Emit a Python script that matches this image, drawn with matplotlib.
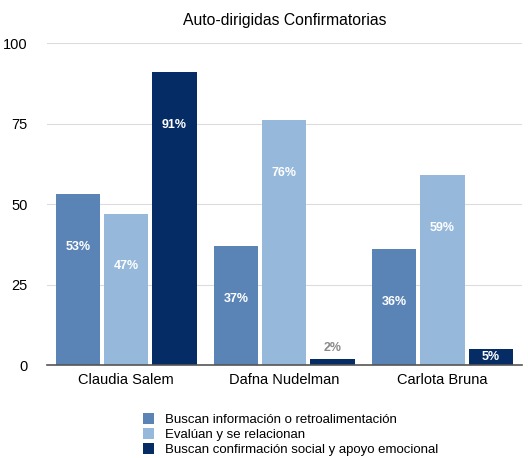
import matplotlib
matplotlib.use("Agg")
import matplotlib.pyplot as plt
import numpy as np

plt.rcParams['font.family'] = ['Liberation Sans', 'DejaVu Sans']

categories = ["Claudia Salem", "Dafna Nudelman", "Carlota Bruna"]
series_names = ["Buscan información o retroalimentación",
                "Evalúan y se relacionan",
                "Buscan confirmación social y apoyo emocional"]
values = {
    series_names[0]: [53, 37, 36],
    series_names[1]: [47, 76, 59],
    series_names[2]: [91, 2, 5],
}
colors = ["#5b84b6", "#95b8db", "#062c66"]
yticks = [0, 25, 50, 75, 100]

fig = plt.figure(figsize=(5.28, 4.58), dpi=100)
ax = fig.add_axes([0.089, 0.203, 0.899, 0.703])

x = np.arange(len(categories))
bw = 0.28
step = 0.305
for i, name in enumerate(series_names):
    xs = x + (i - 1) * step
    vals = values[name]
    ax.bar(xs, vals, width=bw, color=colors[i], label=name, zorder=3)
    for xi, v in zip(xs, vals):
        if v < 4:
            ax.annotate(f"{v}%", (xi, v), xytext=(0, 3), textcoords="offset points",
                        ha="center", va="bottom", color="#8a8a8a", fontsize=9,
                        fontweight="bold")
        elif v < 10:
            ax.annotate(f"{v}%", (xi, v / 2), ha="center", va="center",
                        color="white", fontsize=9, fontweight="bold")
        else:
            ax.annotate(f"{v}%", (xi, v), xytext=(0, -38), textcoords="offset points",
                        ha="center", va="center", color="white", fontsize=9,
                        fontweight="bold")

ax.set_xlim(-0.5, 2.5)
ax.set_ylim(0, 100)
ax.set_yticks(yticks)
ax.set_xticks(x)
ax.set_xticklabels(categories, fontsize=10.5)
ax.tick_params(axis='y', labelsize=10.5, length=0, pad=14)
ax.tick_params(axis='x', length=0, pad=6)
ax.yaxis.grid(True, color="#dcdcdc", linewidth=0.8, zorder=0)
for s in ["top", "right", "left"]:
    ax.spines[s].set_visible(False)
ax.spines["bottom"].set_color("#555555")
ax.spines["bottom"].set_linewidth(1.2)
ax.spines["bottom"].set_zorder(4)
ax.set_title("Auto-dirigidas Confirmatorias", fontsize=11.3, pad=13)

fig.legend(loc="upper left", bbox_to_anchor=(0.27, 0.098), frameon=False,
           fontsize=9.5, handlelength=0.9, handleheight=0.9, handletextpad=0.8,
           labelspacing=0.15, borderaxespad=0, borderpad=0)

fig.savefig("out.png", dpi=100)
